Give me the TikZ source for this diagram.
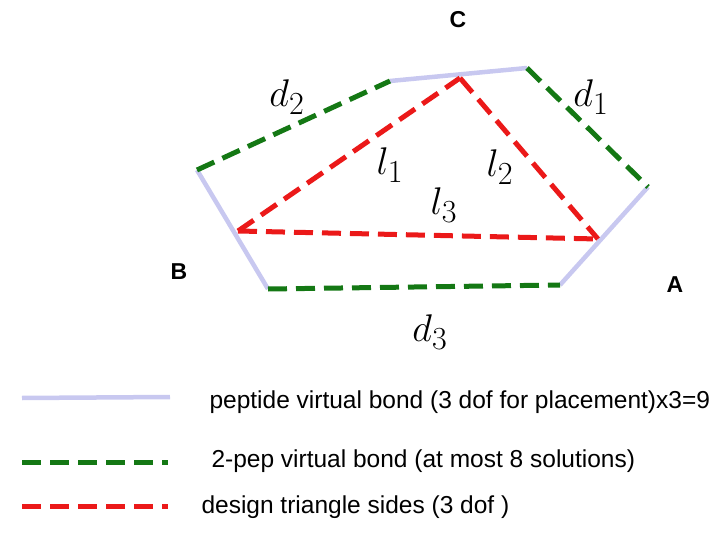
\documentclass[tikz,border=0pt]{standalone}
\usepackage{fontspec}
\setsansfont{Liberation Sans}
\begin{document}
\begin{tikzpicture}[x=1pt,y=-1pt,
  bond/.style={line width=4.5pt,color=lav},
  grn/.style={line width=5pt,color=dgreen,dash pattern=on 19pt off 9pt},
  rd/.style={line width=5pt,color=dred,dash pattern=on 19pt off 9pt},
  lab/.style={font=\fontsize{24.88}{25}\selectfont,scale=1.55},
  vert/.style={font=\sffamily\bfseries\fontsize{23}{23}\selectfont},
  leg/.style={font=\sffamily\fontsize{24.5}{25}\selectfont,anchor=west}]
\definecolor{lav}{RGB}{200,200,240}
\definecolor{dgreen}{RGB}{20,120,20}
\definecolor{dred}{RGB}{235,25,25}
\useasboundingbox (0,0) rectangle (720,540);
\coordinate (p1) at (197,170); \coordinate (p2) at (390,81);
\coordinate (p3) at (527,68); \coordinate (p4) at (648,187);
\coordinate (p5) at (560,285); \coordinate (p6) at (268,289);
\coordinate (tb) at (238,231); \coordinate (tc) at (460,78); \coordinate (ta) at (598,239);
\draw[bond] (p2) -- (p3); \draw[bond] (p1) -- (p6); \draw[bond] (p4) -- (p5);
\draw[grn] (p1) -- (p2); \draw[grn] (p3) -- (p4); \draw[grn] (p6) -- (p5);
\draw[rd] (tb) -- (tc); \draw[rd] (tc) -- (ta); \draw[rd] (tb) -- (ta);
\node[lab] (d2) at (287,97) {$d_2$};
\node[lab] (d1) at (591,97) {$d_1$};
\node[lab] (l1) at (390,165) {$l_1$};
\node[lab] (l2) at (500,167) {$l_2$};
\node[lab] (l3) at (444,205) {$l_3$};
\node[lab] (d3) at (430,332) {$d_3$};
\node[vert] (C) at (458,20) {C};
\node[vert] (B) at (179,272) {B};
\node[vert] (A) at (675,285) {A};
\coordinate (a1) at (22,398); \coordinate (a2) at (170,397);
\coordinate (b1) at (22,462); \coordinate (b2) at (168,462);
\coordinate (c1) at (22,506); \coordinate (c2) at (168,506);
\draw[bond] (a1) -- (a2); \draw[grn] (b1) -- (b2); \draw[rd] (c1) -- (c2);
\node[leg] (t1) at (206,402) {peptide virtual bond (3 dof for placement)x3=9};
\node[leg] (t2) at (208,461) {2-pep virtual bond (at most 8 solutions)};
\node[leg] (t3) at (198,507) {design triangle sides (3 dof )};
\end{tikzpicture}
\end{document}
